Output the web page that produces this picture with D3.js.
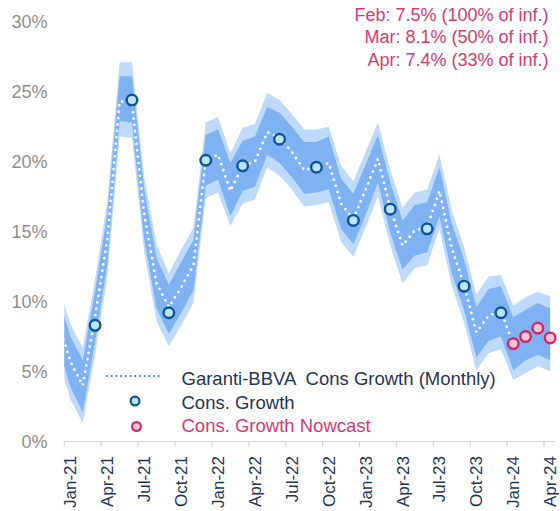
<!DOCTYPE html>
<html>
<head>
<meta charset="utf-8">
<script src="https://cdn.jsdelivr.net/npm/d3@7"></script>
<style>
  html, body { margin: 0; padding: 0; background: #ffffff; }
  svg { display: block; font-family: "Liberation Sans", Arial, sans-serif; }
</style>
</head>
<body>
<svg id="chart" width="560" height="511"></svg>
<script>
// Monthly categories (Dec-20 sits just left of the visible axis and is clipped)
const months = [
  "Dec-20",
  "Jan-21","Feb-21","Mar-21","Apr-21","May-21","Jun-21","Jul-21","Aug-21","Sep-21","Oct-21","Nov-21","Dec-21",
  "Jan-22","Feb-22","Mar-22","Apr-22","May-22","Jun-22","Jul-22","Aug-22","Sep-22","Oct-22","Nov-22","Dec-22",
  "Jan-23","Feb-23","Mar-23","Apr-23","May-23","Jun-23","Jul-23","Aug-23","Sep-23","Oct-23","Nov-23","Dec-23",
  "Jan-24","Feb-24","Mar-24","Apr-24"
];
const tickLabels = ["Jan-21","Apr-21","Jul-21","Oct-21","Jan-22","Apr-22","Jul-22","Oct-22","Jan-23","Apr-23","Jul-23","Oct-23","Jan-24","Apr-24"];
const yTicks = [0, 5, 10, 15, 20, 25, 30];

// Garanti-BBVA monthly consumption growth (%), Dec-20 .. Jan-24
const monthlyGrowth = [
  8.6,
  5.7, 4.0, 8.9, 14.5, 24.3, 24.2, 16.2, 11.3, 9.6, 11.0, 12.6, 20.1,
  20.5, 17.9, 19.7, 20.0, 22.1, 21.7, 20.7, 19.4, 19.6, 19.9, 17.0, 15.9,
  18.0, 20.2, 16.7, 14.0, 15.1, 15.3, 17.9, 13.8, 11.2, 7.8, 9.0, 9.3,
  7.0
];

// Uncertainty bands (%), Dec-20 .. Apr-24
const bandOuterHigh = [
  11.2,
  8.4, 6.7, 11.6, 17.2, 27.1, 27.1, 18.9, 14.1, 12.0, 13.7, 15.3, 22.8,
  23.2, 20.6, 22.4, 22.7, 24.9, 24.4, 23.4, 22.3, 22.3, 22.5, 19.7, 18.6,
  20.7, 22.8, 19.4, 16.7, 17.8, 18.0, 20.5, 16.5, 13.9, 10.5, 11.8, 11.9,
  9.7, 10.3, 10.7, 10.4
];
const bandInnerHigh = [
  10.4,
  7.5, 5.8, 10.7, 16.3, 26.1, 26.1, 18.0, 13.1, 11.2, 12.8, 14.4, 21.9,
  22.3, 19.9, 21.5, 21.8, 23.9, 23.5, 22.5, 21.4, 21.4, 21.8, 18.8, 17.7,
  19.8, 21.9, 18.5, 15.8, 16.9, 17.1, 19.6, 15.6, 13.0, 9.6, 10.9, 11.1,
  8.9, 9.4, 9.9, 9.5
];
const bandInnerLow = [
  6.8,
  3.9, 2.1, 7.1, 12.7, 22.9, 22.8, 14.4, 9.5, 7.7, 9.2, 10.8, 18.3,
  18.7, 16.1, 17.9, 18.2, 20.5, 19.9, 18.9, 17.7, 17.8, 18.0, 15.2, 14.1,
  16.2, 18.5, 14.9, 12.3, 13.3, 13.5, 16.1, 12.0, 9.4, 6.0, 7.2, 7.5,
  5.1, 5.8, 6.2, 5.8
];
const bandOuterLow = [
  5.9,
  3.0, 1.3, 6.2, 11.8, 21.8, 21.7, 13.5, 8.6, 6.8, 8.3, 9.9, 17.4,
  17.8, 15.4, 17.0, 17.3, 19.6, 19.0, 18.0, 16.8, 16.9, 17.1, 14.3, 13.2,
  15.3, 17.5, 14.0, 11.3, 12.4, 12.6, 15.2, 11.1, 8.5, 5.1, 6.3, 6.6,
  4.4, 4.9, 5.4, 5.0
];

// Quarterly consumption growth (%)
const consMonths = ["Mar-21","Jun-21","Sep-21","Dec-21","Mar-22","Jun-22","Sep-22","Dec-22","Mar-23","Jun-23","Sep-23","Dec-23"];
const consGrowth = [8.3, 24.4, 9.2, 20.1, 19.7, 21.6, 19.6, 15.8, 16.6, 15.2, 11.1, 9.2];

// Nowcast (%) and share of information available
const nowcastMonths = ["Jan-24","Feb-24","Mar-24","Apr-24"];
const nowcast = [7.0, 7.5, 8.1, 7.4];
const noteMonths = ["Feb","Mar","Apr"];
const infoShare = [100, 50, 33];

const legendLabels = ["Garanti-BBVA  Cons Growth (Monthly)", "Cons. Growth", "Cons. Growth Nowcast"];

// ---- layout ----
const W = 560, H = 511;
const plotLeft = 64.3, plotRight = 556.3, plotBottom = 441.5, plotTop = 21.7;
const step = (plotRight - plotLeft) / (months.length - 1);

const svg = d3.select("#chart");

const x = d3.scaleBand()
  .domain(months)
  .range([plotLeft - step, plotRight])
  .paddingInner(0).paddingOuter(0);
const cx = m => x(m) + x.bandwidth() / 2;

const y = d3.scaleLinear().domain([0, 30]).range([plotBottom, plotTop]);

const colors = {
  bandOuter: "#bdd9fb",
  bandInner: "#7fb2f2",
  dots: "#ffffff",
  legendDots: "#3f7fd8",
  consFill: "#bde4f6",
  consStroke: "#0f5498",
  nowFill: "#f8c5d5",
  nowStroke: "#d2266a",
  note: "#d83a70",
  text: "#1f3557",
  yText: "#8f8f8f",
  axis: "#d9d9d9"
};

svg.append("defs").append("clipPath").attr("id", "plot-clip")
  .append("rect")
  .attr("x", plotLeft).attr("y", 0)
  .attr("width", plotRight - plotLeft).attr("height", plotBottom);

const plot = svg.append("g").attr("clip-path", "url(#plot-clip)");

const bandRows = months.map((m, i) => ({
  m, oh: bandOuterHigh[i], ih: bandInnerHigh[i], il: bandInnerLow[i], ol: bandOuterLow[i]
}));

plot.append("path")
  .datum(bandRows)
  .attr("fill", colors.bandOuter)
  .attr("d", d3.area().x(d => cx(d.m)).y0(d => y(d.ol)).y1(d => y(d.oh)));

plot.append("path")
  .datum(bandRows)
  .attr("fill", colors.bandInner)
  .attr("d", d3.area().x(d => cx(d.m)).y0(d => y(d.il)).y1(d => y(d.ih)));

const lineRows = monthlyGrowth.map((v, i) => ({ m: months[i], v }));
plot.append("path")
  .datum(lineRows)
  .attr("fill", "none")
  .attr("stroke", colors.dots)
  .attr("stroke-width", 2.8)
  .attr("stroke-linecap", "round")
  .attr("stroke-linejoin", "round")
  .attr("stroke-dasharray", "0 6.4")
  .attr("d", d3.line().x(d => cx(d.m)).y(d => y(d.v)));

// ---- axes ----
const yAxis = svg.append("g").attr("class", "y-axis");
yAxis.selectAll("text")
  .data(yTicks)
  .join("text")
  .attr("x", 47.5)
  .attr("y", d => y(d))
  .attr("dy", "0.35em")
  .attr("text-anchor", "end")
  .attr("font-size", 18)
  .attr("fill", colors.yText)
  .text(d => d + "%");

svg.append("line")
  .attr("x1", plotLeft).attr("x2", plotRight)
  .attr("y1", plotBottom).attr("y2", plotBottom)
  .attr("stroke", colors.axis).attr("stroke-width", 1.2);

svg.append("g")
  .selectAll("line")
  .data(tickLabels)
  .join("line")
  .attr("x1", d => x(d)).attr("x2", d => x(d))
  .attr("y1", plotBottom).attr("y2", plotBottom + 5.5)
  .attr("stroke", colors.axis).attr("stroke-width", 1.2);

svg.append("g")
  .selectAll("text")
  .data(tickLabels)
  .join("text")
  .attr("transform", d => `translate(${cx(d)},456) rotate(-90)`)
  .attr("dy", "0.35em")
  .attr("text-anchor", "end")
  .attr("font-size", 17)
  .attr("fill", colors.text)
  .text(d => d);

// ---- markers ----
svg.append("g")
  .selectAll("circle")
  .data(consMonths.map((m, i) => ({ m, v: consGrowth[i] })))
  .join("circle")
  .attr("cx", d => cx(d.m))
  .attr("cy", d => y(d.v))
  .attr("r", 5.3)
  .attr("fill", colors.consFill)
  .attr("stroke", colors.consStroke)
  .attr("stroke-width", 2.4);

svg.append("g")
  .selectAll("circle")
  .data(nowcastMonths.map((m, i) => ({ m, v: nowcast[i] })))
  .join("circle")
  .attr("cx", d => cx(d.m))
  .attr("cy", d => y(d.v))
  .attr("r", 5.3)
  .attr("fill", colors.nowFill)
  .attr("stroke", colors.nowStroke)
  .attr("stroke-width", 2.4);

// ---- notes (top right) ----
svg.append("g")
  .selectAll("text")
  .data(noteMonths.map((m, i) => ({ m, v: nowcast[i + 1], s: infoShare[i] })))
  .join("text")
  .attr("x", 548.5)
  .attr("y", (d, i) => 20.5 + i * 22.5)
  .attr("text-anchor", "end")
  .attr("font-size", 18)
  .attr("fill", colors.note)
  .text(d => `${d.m}: ${d.v.toFixed(1)}% (${d.s}% of inf.)`);

// ---- legend ----
const legend = svg.append("g");
legend.append("line")
  .attr("x1", 107).attr("x2", 159)
  .attr("y1", 376).attr("y2", 376)
  .attr("stroke", colors.legendDots)
  .attr("stroke-width", 2.2)
  .attr("stroke-linecap", "round")
  .attr("stroke-dasharray", "0 4.7");
legend.append("circle")
  .attr("cx", 135).attr("cy", 401).attr("r", 4.4)
  .attr("fill", colors.consFill).attr("stroke", colors.consStroke).attr("stroke-width", 2.2);
legend.append("circle")
  .attr("cx", 136.5).attr("cy", 426.5).attr("r", 4.4)
  .attr("fill", colors.nowFill).attr("stroke", colors.nowStroke).attr("stroke-width", 2.2);
legend.selectAll("text")
  .data(legendLabels)
  .join("text")
  .attr("x", 181.5)
  .attr("y", (d, i) => 384.8 + i * 23.8)
  .attr("font-size", 18.5)
  .attr("fill", (d, i) => i === 2 ? colors.note : colors.text)
  .style("white-space", "pre")
  .attr("xml:space", "preserve")
  .text(d => d);
</script>
</body>
</html>
